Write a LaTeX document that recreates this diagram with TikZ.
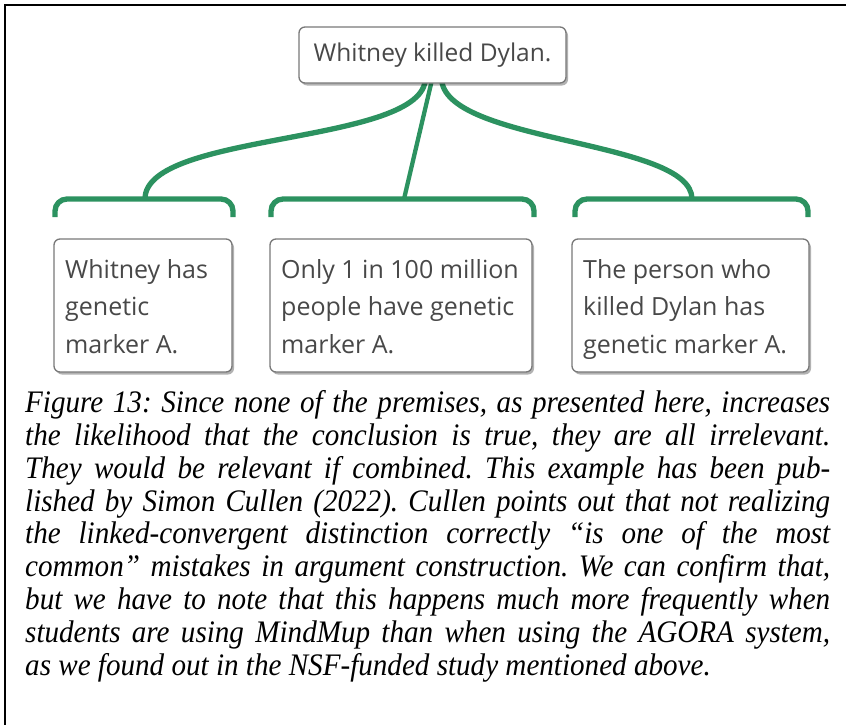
\documentclass[tikz,border=0pt]{standalone}
\usepackage{fontspec}
\newfontfamily\osfont{Open Sans}
\newfontfamily\capfont[FakeStretch=0.93]{Liberation Serif}
\usetikzlibrary{shadows}
\definecolor{linkgreen}{RGB}{44,146,96}
\definecolor{boxgray}{RGB}{120,120,120}
\definecolor{txtgray}{RGB}{72,72,72}
\pgfdeclarelayer{bg}
\pgfsetlayers{bg,main}
\frenchspacing
\begin{document}
\begin{tikzpicture}[x=1pt,y=-1pt,
  argbox/.style={draw=boxgray, line width=1.3pt, rounded corners=6pt, fill=white,
    drop shadow={shadow xshift=2pt, shadow yshift=-2.5pt, opacity=0.3, fill=black}, inner sep=0pt},
  ptext/.style={inner sep=0pt, anchor=base west, text=txtgray, font=\osfont\fontsize{25}{37.5}\selectfont},
  link/.style={draw=linkgreen, line width=5.3pt},
  captext/.style={inner sep=0pt, anchor=base west, font=\capfont\itshape\fontsize{31.3}{32.8}\selectfont}
]
\useasboundingbox (0,0) rectangle (846,725);
% frame
\draw[line width=2pt] (5,725) -- (5,5) -- (846,5);

% conclusion
\node[argbox, minimum width=267pt, minimum height=56pt, text=txtgray,
  font=\osfont\fontsize{24.5}{30}\selectfont] (c) at (432.5,55) {Whitney killed Dylan.};

% premises
\node[argbox, minimum width=178pt, minimum height=133pt] (p1) at (143,305.5) {};
\node[argbox, minimum width=262pt, minimum height=133pt] (p2) at (401,305.5) {};
\node[argbox, minimum width=237pt, minimum height=133pt] (p3) at (690.5,305.5) {};

\node[ptext] (t1) at (65,278) {\begin{tabular}[t]{@{}l@{}}Whitney has\\genetic\\marker A.\end{tabular}};
\node[ptext] (t2) at (281,278) {\begin{tabular}[t]{@{}l@{}}Only 1 in 100 million\\people have genetic\\marker A.\end{tabular}};
\node[ptext] (t3) at (583,278) {\begin{tabular}[t]{@{}l@{}}The person who\\killed Dylan has\\genetic marker A.\end{tabular}};

% junctions
\coordinate (j1) at (145,199);
\coordinate (j2) at (404,199);
\coordinate (j3) at (692,199);

\begin{pgfonlayer}{bg}
\draw[link] ([xshift=-7pt,yshift=6pt]c.south) .. controls +(0,68) and +(0,-68) .. (j1);
\draw[link, line width=4.3pt] ([yshift=6pt]c.south) -- (j2);
\draw[link] ([xshift=9pt,yshift=6pt]c.south) .. controls +(0,66) and +(0,-60) .. (j3);
\end{pgfonlayer}

% brackets
\draw[link, rounded corners=12pt] (55,217) -- (55,199) -- (233,199) -- (233,217);
\draw[link, rounded corners=12pt] (271,217) -- (271,199) -- (534,199) -- (534,217);
\draw[link, rounded corners=12pt] (575,217) -- (575,199) -- (808,199) -- (808,217);

% caption
\node[captext] (cap) at (25,412.7) {\begin{tabular}[t]{@{}l@{}}%
\makebox[805pt][s]{Figure 13: Since none of the premises, as presented here, increases}\\
\makebox[805pt][s]{the likelihood that the conclusion is true, they are all irrelevant.}\\
\makebox[805pt][s]{They would be relevant if combined. This example has been pub-}\\
\makebox[805pt][s]{lished by Simon Cullen (2022). Cullen points out that not realizing}\\
\makebox[805pt][s]{the linked-convergent distinction correctly “is one of the most}\\
\makebox[805pt][s]{common” mistakes in argument construction. We can confirm that,}\\
\makebox[805pt][s]{but we have to note that this happens much more frequently when}\\
\makebox[805pt][s]{students are using MindMup than when using the AGORA system,}\\
as we found out in the NSF-funded study mentioned above.
\end{tabular}};
\end{tikzpicture}
\end{document}
